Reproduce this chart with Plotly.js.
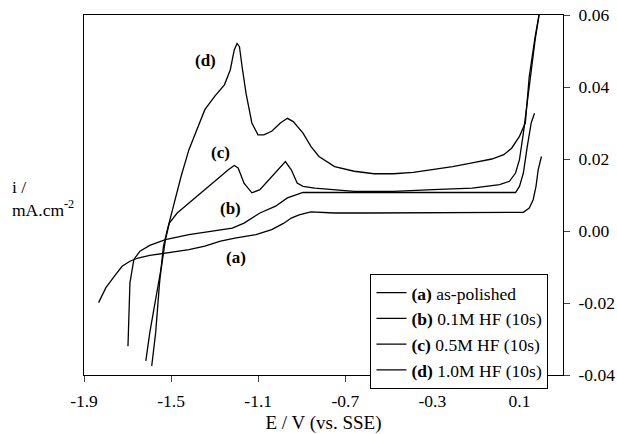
<!DOCTYPE html>
<html>
<head>
<meta charset="utf-8">
<script src="https://cdn.plot.ly/plotly-3.0.1.min.js"></script>
<style>html,body{margin:0;padding:0;background:#fff}#chart{width:617px;height:434px}</style>
</head>
<body>
<div id="chart"></div>
<script>
// (a) as-polished
const aE = [-1.833,-1.800,-1.761,-1.725,-1.689,-1.652,-1.598,-1.526,-1.418,-1.345,-1.273,-1.201,-1.110,-1.038,-0.984,-0.948,-0.912,-0.858,-0.749,-0.600,-0.478,-0.300,-0.117,0.050,0.118,0.145,0.163,0.176,0.186,0.201];
const aI = [-0.0199,-0.0158,-0.0126,-0.0098,-0.0084,-0.0075,-0.0068,-0.0061,-0.0052,-0.0042,-0.0028,-0.0019,-0.0010,0.0004,0.0021,0.0036,0.0045,0.0053,0.0050,0.0050,0.0050,0.0050,0.0050,0.0050,0.0052,0.0064,0.0087,0.0124,0.0170,0.0207];
// (b) 0.1M HF (10s)
const bE = [-1.698,-1.694,-1.689,-1.671,-1.643,-1.598,-1.526,-1.418,-1.309,-1.219,-1.165,-1.092,-1.020,-0.966,-0.894,-0.840,-0.659,-0.478,-0.297,-0.100,0.082,0.100,0.118,0.136,0.154,0.169];
const bI = [-0.0320,-0.0240,-0.0144,-0.0079,-0.0056,-0.0040,-0.0024,-0.0010,-0.0001,0.0008,0.0022,0.0050,0.0069,0.0092,0.0107,0.0107,0.0105,0.0106,0.0107,0.0107,0.0107,0.0124,0.0161,0.0235,0.0300,0.0327];
// (c) 0.5M HF (10s)
const cE = [-1.616,-1.598,-1.571,-1.544,-1.526,-1.508,-1.472,-1.418,-1.345,-1.273,-1.237,-1.210,-1.192,-1.165,-1.129,-1.092,-1.038,-0.998,-0.975,-0.948,-0.921,-0.894,-0.840,-0.659,-0.478,-0.297,-0.117,0.009,0.054,0.082,0.100,0.118,0.136,0.154,0.172,0.190];
const cI = [-0.0361,-0.0283,-0.0190,-0.0098,-0.0024,0.0022,0.0050,0.0078,0.0115,0.0152,0.0170,0.0182,0.0175,0.0133,0.0106,0.0115,0.0152,0.0180,0.0193,0.0170,0.0133,0.0124,0.0119,0.0110,0.0110,0.0115,0.0119,0.0129,0.0138,0.0161,0.0198,0.0272,0.0364,0.0447,0.0531,0.0600];
// (d) 1.0M HF (10s)
const dE = [-1.589,-1.571,-1.553,-1.535,-1.517,-1.490,-1.454,-1.418,-1.381,-1.345,-1.300,-1.255,-1.228,-1.210,-1.197,-1.186,-1.174,-1.156,-1.129,-1.101,-1.074,-1.038,-0.998,-0.966,-0.939,-0.894,-0.858,-0.821,-0.749,-0.659,-0.568,-0.478,-0.388,-0.297,-0.207,-0.117,-0.027,0.028,0.064,0.100,0.127,0.145,0.157,0.172,0.190];
const dI = [-0.0375,-0.0283,-0.0144,-0.0042,0.0004,0.0069,0.0152,0.0226,0.0281,0.0337,0.0374,0.0406,0.0448,0.0503,0.0521,0.0512,0.0457,0.0383,0.0300,0.0267,0.0267,0.0277,0.0300,0.0313,0.0304,0.0272,0.0235,0.0207,0.0179,0.0166,0.0159,0.0159,0.0163,0.0170,0.0179,0.0189,0.0200,0.0212,0.0230,0.0263,0.0300,0.0429,0.0480,0.0540,0.0600];

const seriesNames = ['<b>(a)</b> as-polished','<b>(b)</b> 0.1M HF (10s)','<b>(c)</b> 0.5M HF (10s)','<b>(d)</b> 1.0M HF (10s)'];
const curveLabels = ['(a)','(b)','(c)','(d)'];
const labelE = [-1.200,-1.227,-1.272,-1.344];
const labelI = [-0.0074,0.0062,0.0219,0.0474];
const xTickVals = [-1.9,-1.5,-1.1,-0.7,-0.3,0.1];
const xTickText = ['-1.9','-1.5','-1.1','-0.7','-0.3','0.1'];
const yTickVals = [-0.04,-0.02,0.00,0.02,0.04,0.06];
const yTickText = ['-0.04','-0.02','0.00','0.02','0.04','0.06'];

const F = "Liberation Serif";
const xs = [aE,bE,cE,dE], ys = [aI,bI,cI,dI];
const traces = xs.map((x,k)=>({
  x:x, y:ys[k], type:'scatter', mode:'lines', name:seriesNames[k],
  line:{color:'#000', width:1.3}
}));

const ann = curveLabels.map((t,k)=>({
  x:labelE[k], y:labelI[k], xref:'x', yref:'y', text:'<b>'+t+'</b>',
  showarrow:false, font:{family:F, size:17, color:'#000'}
}));
ann.push({xref:'paper', yref:'paper', x:-0.155, y:0.489, xanchor:'left', yanchor:'middle', align:'left',
  text:'i /<br>mA.cm<sup>-2</sup>', showarrow:false, font:{family:F, size:17.5, color:'#000'}});

const layout = {
  width:617, height:434,
  margin:{l:83.5, r:54.3, t:15, b:59},
  paper_bgcolor:'#fff', plot_bgcolor:'#fff',
  font:{family:F, size:17.5, color:'#000'},
  showlegend:true,
  legend:{x:0.598, y:0.281, xanchor:'left', yanchor:'top', bgcolor:'#fff', bordercolor:'#000', borderwidth:1,
    font:{family:F, size:17.5, color:'#000'}, itemwidth:30, tracegroupgap:0},
  xaxis:{range:[-1.9,0.3], tickvals:xTickVals, ticktext:xTickText, ticks:'outside', ticklen:6,
    ticklabelstandoff:4,
    showline:true, linecolor:'#000', linewidth:1, mirror:true, showgrid:false, zeroline:false,
    tickfont:{family:F, size:17.5}, title:{text:'E / V (vs. SSE)', font:{family:F, size:19}, standoff:5}},
  yaxis:{range:[-0.04,0.06], side:'right', tickvals:yTickVals, ticktext:yTickText, ticks:'outside', ticklen:6,
    ticklabelstandoff:5,
    showline:true, linecolor:'#000', linewidth:1, mirror:true, showgrid:false, zeroline:false,
    tickfont:{family:F, size:17.5}},
  annotations:ann
};
Plotly.newPlot('chart', traces, layout, {staticPlot:true});
</script>
</body>
</html>
